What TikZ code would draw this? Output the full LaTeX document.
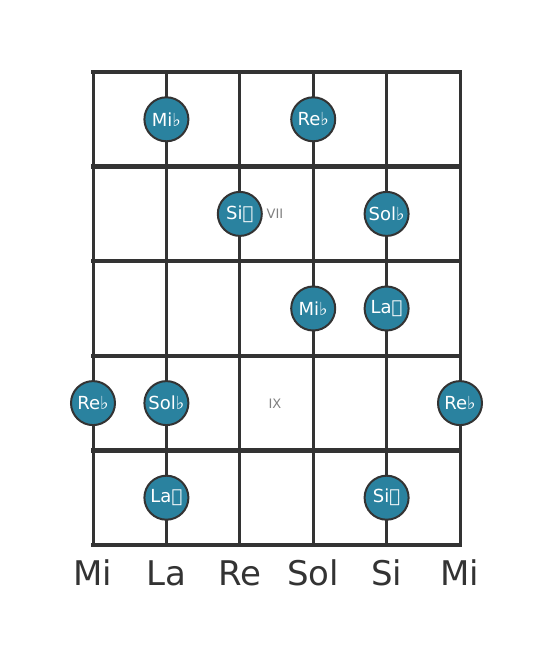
\documentclass[tikz,border=0pt]{standalone}
\usepackage{fontspec}
\setmainfont{DejaVu Sans}
\definecolor{gridc}{HTML}{333333}
\definecolor{notefill}{HTML}{2A829F}
\definecolor{markc}{HTML}{808080}
\begin{document}
\begin{tikzpicture}[x=1pt,y=-1pt,
  fret/.style={draw=gridc,line width=4.5pt,line cap=rect},
  strg/.style={draw=gridc,line width=3pt},
  note/.style={circle,draw=gridc,line width=2pt,fill=notefill,minimum size=44pt,inner sep=0pt,text=white,font=\fontsize{18}{18}\selectfont},
  strlab/.style={text=gridc,font=\fontsize{34}{34}\selectfont,anchor=base},
  posmark/.style={text=markc,font=\fontsize{13}{13}\selectfont}]
\useasboundingbox (0,0) rectangle (553,656);
% string coordinates
\foreach \i/\x in {1/93,2/166.4,3/239.8,4/313.2,5/386.6,6/460}{
  \coordinate (st\i) at (\x,72);
  \coordinate (sb\i) at (\x,545);
}
\foreach \j/\y in {0/72,1/166.6,2/261.2,3/355.8,4/450.4,5/545}{
  \coordinate (fl\j) at (93,\y);
  \coordinate (fr\j) at (460,\y);
}
\foreach \i in {1,...,6}{ \draw[strg] (st\i) -- (sb\i); }
\foreach \j in {0,...,5}{ \draw[fret] (fl\j) -- (fr\j); }
% position markers
\node[posmark] (m7) at (275,214) {VII};
\node[posmark] (m9) at (275,404) {IX};
% notes
\node[note] (n1) at (166.4,119.3) {Mi♭};
\node[note] (n2) at (313.2,119.3) {Re♭};
\node[note] (n3) at (239.8,213.9) {Si𝄫};
\node[note] (n4) at (386.6,213.9) {Sol♭};
\node[note] (n5) at (313.2,308.5) {Mi♭};
\node[note] (n6) at (386.6,308.5) {La𝄫};
\node[note] (n7) at (93,403.1) {Re♭};
\node[note] (n8) at (166.4,403.1) {Sol♭};
\node[note] (n9) at (460,403.1) {Re♭};
\node[note] (n10) at (166.4,497.7) {La𝄫};
\node[note] (n11) at (386.6,497.7) {Si𝄫};
% string names
\node[strlab] (l1) at (93,585) {Mi};
\node[strlab] (l2) at (166.4,585) {La};
\node[strlab] (l3) at (239.8,585) {Re};
\node[strlab] (l4) at (313.2,585) {Sol};
\node[strlab] (l5) at (386.6,585) {Si};
\node[strlab] (l6) at (460,585) {Mi};
\end{tikzpicture}
\end{document}
